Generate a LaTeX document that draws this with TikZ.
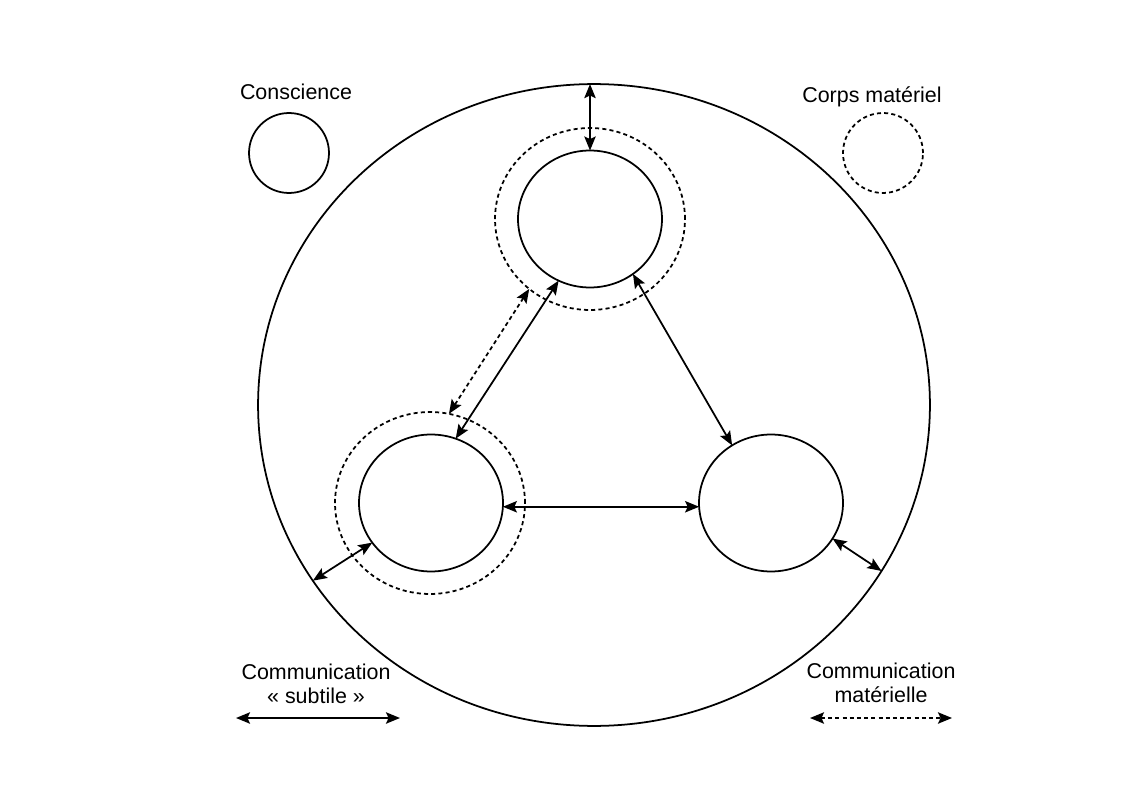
\documentclass[tikz,border=0pt]{standalone}
\usepackage{fontspec}
\setmainfont{Liberation Sans}
\usetikzlibrary{shapes.geometric,arrows.meta}
\begin{document}
\begin{tikzpicture}[x=0.02cm,y=-0.02cm,
  every node/.style={inner sep=0pt,outer sep=0pt},
  soul/.style={draw,line width=1pt,ellipse,minimum width=2.88cm,minimum height=2.74cm},
  halo/.style={draw,line width=1pt,ellipse,dash pattern=on 2.3pt off 1.8pt,minimum width=3.8cm,minimum height=3.64cm},
  world/.style={draw,line width=1pt,ellipse,minimum width=13.44cm,minimum height=12.84cm},
  small/.style={draw,line width=1pt,circle,minimum size=1.6cm},
  lbl/.style={font=\fontsize{12.2}{13.6}\selectfont,align=center},
  link/.style={line width=1pt,{Stealth[length=8pt,width=6.5pt,inset=1.5pt]}-{Stealth[length=8pt,width=6.5pt,inset=1.5pt]}},
  dlink/.style={link,dash pattern=on 2.3pt off 1.8pt}]
\useasboundingbox (0,0) rectangle (1123,794);
\node[world] (big) at (594,405) {};
\node[halo] (toph) at (590,219) {};
\node[halo] (lefth) at (430,503) {};
\node[soul] (top) at (590,219) {};
\node[soul] (left) at (431,503) {};
\node[soul] (right) at (771,503) {};
\node[small] (cons) at (289,153) {};
\node[small,dash pattern=on 2.3pt off 1.8pt] (corps) at (883,153) {};
\node[lbl] (tcons) at (296,92) {Conscience};
\node[lbl] (tcorps) at (872,97) {Corps matériel};
\node[lbl] (tsub) at (316,684) {Communication\\« subtile »};
\node[lbl] (tmat) at (881,683) {Communication\\matérielle};
\coordinate (s1) at (236,718);
\coordinate (s2) at (400,718);
\coordinate (d1) at (810,718);
\coordinate (d2) at (952,718);
\draw[link] (s1) -- (s2);
\draw[dlink] (d1) -- (d2);
\draw[link] (top.north) -- (top.north |- big.north);
\draw[link] (top.243) -- (left.69);
\draw[dlink] (toph.229) -- (lefth.78);
\draw[link] (top.308) -- (right.124);
\draw[link] (left.-3) -- (right.183);
\draw[link] (left.214) -- (big.212.2);
\draw[link] (right.-30) -- (big.-30.4);
\end{tikzpicture}
\end{document}
